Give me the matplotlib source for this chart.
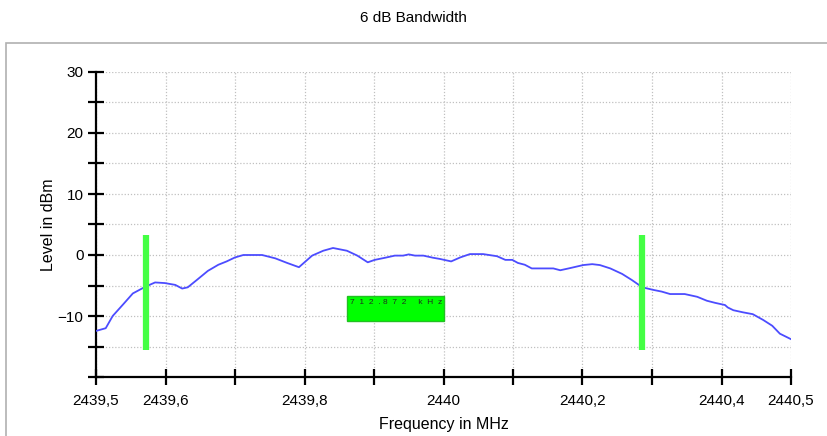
import matplotlib
matplotlib.use('Agg')
import matplotlib.pyplot as plt
from matplotlib.patches import Rectangle
from matplotlib.ticker import FixedLocator, MultipleLocator

plt.rcParams['font.family'] = ['Liberation Sans Narrow', 'Liberation Sans', 'DejaVu Sans']

# Measured spectrum (MHz, dBm)
freq = [2439.500, 2439.514, 2439.524, 2439.539, 2439.553, 2439.571, 2439.585,
        2439.599, 2439.614, 2439.624, 2439.632, 2439.645, 2439.661, 2439.676,
        2439.688, 2439.700, 2439.712, 2439.739, 2439.758, 2439.775, 2439.792,
        2439.811, 2439.827, 2439.841, 2439.861, 2439.876, 2439.891, 2439.901,
        2439.916, 2439.930, 2439.942, 2439.950, 2439.959, 2439.971, 2439.985,
        2439.995, 2440.011, 2440.024, 2440.038, 2440.057, 2440.077, 2440.089,
        2440.099, 2440.107, 2440.117, 2440.127, 2440.158, 2440.168, 2440.182,
        2440.201, 2440.214, 2440.225, 2440.240, 2440.257, 2440.271, 2440.283,
        2440.290, 2440.301, 2440.314, 2440.326, 2440.347, 2440.365, 2440.379,
        2440.391, 2440.405, 2440.409, 2440.417, 2440.431, 2440.445, 2440.460,
        2440.473, 2440.484, 2440.500]
level = [-12.45, -12.0, -10.0, -8.1, -6.3, -5.2, -4.5,
         -4.6, -4.9, -5.5, -5.3, -4.1, -2.6, -1.6,
         -1.05, -0.4, 0.0, 0.0, -0.55, -1.3, -2.0,
         -0.1, 0.7, 1.15, 0.7, -0.1, -1.2, -0.8,
         -0.45, -0.1, -0.1, 0.1, -0.1, -0.1, -0.45,
         -0.65, -1.05, -0.4, 0.15, 0.15, -0.2, -0.8,
         -0.8, -1.3, -1.6, -2.2, -2.2, -2.5, -2.15,
         -1.65, -1.5, -1.65, -2.2, -3.1, -4.1, -5.05,
         -5.4, -5.7, -6.0, -6.4, -6.4, -6.85, -7.5,
         -7.85, -8.2, -8.6, -9.05, -9.4, -9.7, -10.65,
         -11.6, -12.9, -13.8]

# 6 dB bandwidth markers
f_low, f_high = 2439.5725, 2440.2854
marker_top, marker_bottom = 3.3, -15.5
bw_label = '7  1  2  . 8  7  2     k  H  z'
box_f = (2439.861, 2440.0007)
box_lvl = (-10.8, -6.7)

xticks = [2439.5, 2439.6, 2439.7, 2439.8, 2439.9, 2440.0, 2440.1, 2440.2,
          2440.3, 2440.4, 2440.5]
xlabels = ['2439,5', '2439,6', '', '2439,8', '', '2440', '', '2440,2', '',
           '2440,4', '2440,5']

fig = plt.figure(figsize=(8.27, 4.36), dpi=100)
ax = fig.add_axes([96/827, 59/436, 695/827, 305/436])

# panel frame
fig.patches.append(Rectangle((6/827, -0.1), 1.0, 0.1 + 393/436,
                             transform=fig.transFigure, fill=False,
                             edgecolor='#b0b0b0', linewidth=1.2))

ax.plot(freq, level, color='#4c4cff', linewidth=1.3, zorder=3)
ax.vlines([f_low, f_high], marker_bottom, marker_top, color='#44ff44',
          linewidth=4.5, zorder=4)

ax.add_patch(Rectangle((box_f[0], box_lvl[0]), box_f[1] - box_f[0],
                       box_lvl[1] - box_lvl[0], facecolor='#00ff00',
                       edgecolor='#22c022', linewidth=1.0, zorder=5))
ax.text(box_f[0] + 0.004, box_lvl[1] - 0.55, bw_label, fontsize=6,
        color='#203020', va='top', ha='left', zorder=6)

ax.set_xlim(2439.5, 2440.5)
ax.set_ylim(-20, 30)
ax.xaxis.set_major_locator(FixedLocator(xticks))
ax.set_xticklabels(xlabels)
ax.yaxis.set_minor_locator(MultipleLocator(5))
ax.set_yticks([-10, 0, 10, 20, 30])

ax.grid(True, which='both', color='#c0c0c0', linestyle=(0, (1, 1.5)),
        linewidth=0.9)
ax.spines['top'].set_visible(False)
ax.spines['right'].set_visible(False)
ax.spines['left'].set_linewidth(1.6)
ax.spines['bottom'].set_linewidth(1.6)
ax.tick_params(axis='both', which='both', direction='inout', length=11,
               width=1.6, labelsize=11, colors='black')
ax.tick_params(axis='x', pad=7)

ax.set_xlabel('Frequency in MHz', fontsize=11.5, labelpad=6)
ax.set_ylabel('Level in dBm', fontsize=11.5, labelpad=1)
fig.text(0.5, 1 - 18/436, '6 dB Bandwidth', ha='center', va='center',
         fontsize=11)

fig.savefig('out.png', dpi=100)
